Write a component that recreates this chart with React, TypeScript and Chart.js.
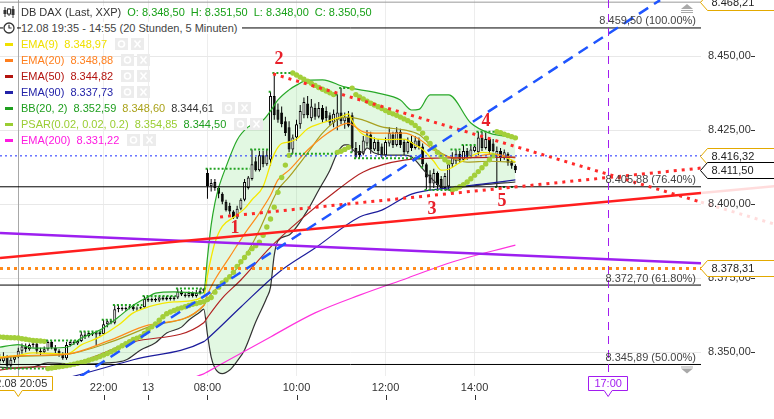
import React, { useEffect, useRef } from 'react';
import { Chart, registerables } from 'chart.js';

Chart.register(...registerables);

// ================= DATA =================
// 5-minute candles, bar index 0 = 19:40 (12.08) ... 139 = 14:55 (13.08)
const openPrices = [
  8348.0, 8347.0, 8348.5, 8345.5, 8347.5, 8348.5, 8350.5, 8352.0, 8351.0, 8352.5,
  8353.0, 8350.5, 8350.0, 8351.0, 8353.5, 8351.5, 8350.5, 8349.5, 8348.0, 8352.5,
  8353.5, 8353.0, 8353.8, 8356.0, 8355.5, 8356.5, 8356.0, 8356.8, 8356.2, 8359.5,
  8360.5, 8360.0, 8364.5, 8365.0, 8364.5, 8365.0, 8365.5, 8364.5, 8364.8, 8365.2,
  8368.0, 8367.5, 8368.0, 8367.5, 8368.5, 8367.8, 8368.5, 8368.0, 8368.5, 8370.5,
  8369.5, 8369.0, 8370.0, 8369.0, 8370.0, 8370.8, 8410.5, 8406.1, 8407.5, 8405.5,
  8403.5, 8400.8, 8399.5, 8397.5, 8395.5, 8398.5, 8401.5, 8405.5, 8408.5, 8414.5,
  8411.5, 8416.5, 8413.5, 8415.0, 8436.5, 8432.0, 8431.0, 8428.0, 8426.0, 8418.5,
  8422.5, 8427.0, 8430.0, 8434.0, 8429.0, 8432.5, 8429.5, 8432.5, 8431.5, 8430.0,
  8427.5, 8428.5, 8431.0, 8428.0, 8429.5, 8430.0, 8419.0, 8418.0, 8417.0, 8420.5,
  8423.5, 8418.5, 8421.0, 8419.5, 8416.5, 8420.5, 8423.5, 8420.0, 8424.5, 8421.0,
  8417.5, 8421.0, 8419.0, 8421.5, 8419.5, 8413.5, 8410.0, 8407.0, 8410.5, 8408.5,
  8405.5, 8406.0, 8413.5, 8414.5, 8417.0, 8415.0, 8418.0, 8416.0, 8418.0, 8417.5,
  8422.5, 8419.0, 8422.0, 8420.5, 8416.5, 8418.0, 8415.5, 8417.0, 8414.5, 8413.0,
];
const highPrices = [
  8349.5, 8350.0, 8349.0, 8348.5, 8349.0, 8351.5, 8353.0, 8353.0, 8353.0, 8353.5,
  8353.5, 8351.5, 8352.0, 8354.0, 8354.0, 8352.5, 8351.0, 8350.0, 8353.5, 8354.0,
  8354.0, 8354.0, 8357.0, 8357.0, 8357.0, 8357.0, 8357.0, 8357.0, 8361.0, 8361.0,
  8361.0, 8366.0, 8366.0, 8365.5, 8365.5, 8366.0, 8366.0, 8365.5, 8365.5, 8369.0,
  8368.5, 8368.5, 8368.5, 8369.0, 8369.0, 8369.0, 8369.0, 8369.0, 8371.5, 8371.0,
  8370.0, 8370.5, 8370.5, 8371.0, 8371.5, 8371.5, 8412.0, 8408.5, 8408.5, 8406.0,
  8404.0, 8401.5, 8400.5, 8398.0, 8399.5, 8402.0, 8408.5, 8409.5, 8418.5, 8416.0,
  8418.0, 8418.0, 8418.5, 8438.0, 8444.3, 8434.0, 8433.0, 8429.5, 8428.0, 8423.5,
  8428.5, 8433.5, 8436.0, 8436.5, 8435.5, 8434.0, 8434.5, 8433.5, 8433.0, 8431.0,
  8432.0, 8437.0, 8439.2, 8431.0, 8431.5, 8431.0, 8421.0, 8420.0, 8423.0, 8425.0,
  8424.5, 8422.5, 8422.0, 8420.5, 8422.5, 8426.0, 8424.5, 8426.0, 8425.5, 8422.0,
  8422.5, 8423.0, 8423.0, 8422.5, 8420.5, 8414.0, 8411.5, 8412.0, 8411.0, 8409.5,
  8410.5, 8414.0, 8417.5, 8418.5, 8418.0, 8420.0, 8419.0, 8420.0, 8420.0, 8424.5,
  8424.5, 8424.0, 8422.5, 8422.0, 8419.5, 8419.0, 8418.5, 8417.5, 8415.0, 8413.5,
];
const lowPrices = [
  8346.0, 8346.5, 8344.5, 8345.0, 8346.5, 8348.0, 8349.5, 8350.0, 8350.5, 8351.5,
  8349.5, 8349.0, 8349.5, 8350.5, 8351.0, 8349.5, 8348.5, 8347.5, 8347.5, 8352.0,
  8352.5, 8352.5, 8353.5, 8354.5, 8355.0, 8355.5, 8352.5, 8355.5, 8356.0, 8358.5,
  8359.5, 8359.5, 8363.5, 8364.0, 8364.0, 8364.5, 8364.0, 8364.0, 8364.5, 8365.0,
  8367.0, 8367.0, 8367.0, 8367.0, 8367.5, 8367.5, 8367.5, 8367.5, 8368.0, 8369.0,
  8368.5, 8368.5, 8368.5, 8368.5, 8369.5, 8370.0, 8401.8, 8404.3, 8404.5, 8402.0,
  8400.0, 8397.5, 8396.5, 8395.0, 8395.0, 8398.0, 8401.0, 8405.0, 8408.0, 8411.0,
  8411.0, 8412.5, 8413.0, 8413.0, 8428.5, 8427.5, 8426.0, 8423.0, 8417.5, 8417.0,
  8421.5, 8425.5, 8429.0, 8429.0, 8428.0, 8428.5, 8429.0, 8427.5, 8428.0, 8426.5,
  8426.0, 8425.0, 8427.0, 8425.5, 8426.0, 8417.5, 8415.5, 8415.5, 8416.5, 8419.5,
  8417.0, 8418.0, 8416.5, 8415.5, 8416.0, 8419.5, 8419.0, 8419.5, 8419.0, 8416.5,
  8417.0, 8418.0, 8418.5, 8418.5, 8412.5, 8405.0, 8404.8, 8405.5, 8405.0, 8404.8,
  8405.0, 8405.0, 8412.5, 8413.5, 8414.0, 8414.5, 8415.0, 8415.5, 8417.5, 8416.5,
  8418.0, 8418.5, 8417.0, 8417.5, 8405.8, 8414.5, 8415.0, 8413.0, 8412.0, 8410.5,
];
const closePrices = [
  8347.0, 8348.5, 8345.5, 8347.5, 8348.5, 8350.5, 8352.0, 8351.0, 8352.5, 8353.0,
  8350.5, 8350.0, 8351.0, 8353.5, 8351.5, 8350.5, 8349.5, 8348.0, 8352.5, 8353.5,
  8353.0, 8353.8, 8356.0, 8355.5, 8356.5, 8356.0, 8356.8, 8356.2, 8359.5, 8360.5,
  8360.0, 8364.5, 8365.0, 8364.5, 8365.0, 8365.5, 8364.5, 8364.8, 8365.2, 8368.0,
  8367.5, 8368.0, 8367.5, 8368.5, 8367.8, 8368.5, 8368.0, 8368.5, 8370.5, 8369.5,
  8369.0, 8370.0, 8369.0, 8370.0, 8370.8, 8371.5, 8406.1, 8407.2, 8405.5, 8403.5,
  8400.8, 8398.0, 8397.5, 8395.5, 8398.5, 8401.5, 8407.5, 8409.0, 8413.5, 8411.5,
  8416.5, 8413.5, 8416.5, 8436.5, 8430.0, 8428.5, 8427.0, 8424.0, 8418.5, 8422.5,
  8427.0, 8431.5, 8434.5, 8430.0, 8433.0, 8429.5, 8432.5, 8428.5, 8429.0, 8427.5,
  8430.5, 8431.0, 8428.0, 8429.5, 8426.5, 8419.0, 8416.0, 8416.5, 8421.5, 8423.5,
  8418.5, 8421.0, 8418.0, 8416.5, 8421.0, 8424.0, 8420.0, 8424.5, 8420.0, 8417.5,
  8421.0, 8419.0, 8421.5, 8419.5, 8413.5, 8409.0, 8407.0, 8410.5, 8406.5, 8405.5,
  8409.5, 8413.5, 8416.0, 8417.0, 8415.0, 8418.0, 8416.0, 8418.5, 8419.5, 8422.5,
  8419.0, 8422.0, 8418.0, 8418.0, 8418.0, 8415.5, 8417.5, 8414.0, 8413.0, 8411.5,
];
// Parabolic SAR, one dot per bar
const psarValues = [
  8355.2, 8355.1, 8355.0, 8354.95, 8354.9, 8354.85, 8354.6, 8354.4, 8354.2, 8354.0,
  8353.9, 8353.8, 8353.7, 8344.5, 8344.7, 8344.9, 8345.1, 8345.3, 8345.5, 8345.7,
  8346.0, 8346.3, 8346.6, 8346.9, 8347.3, 8347.7, 8348.1, 8348.6, 8349.1, 8349.6,
  8350.2, 8350.8, 8351.5, 8352.2, 8352.9, 8353.6, 8354.3, 8354.8, 8355.3, 8356.4,
  8357.5, 8358.6, 8359.6, 8360.8, 8362.0, 8363.0, 8363.6, 8364.1, 8364.6, 8365.0,
  8365.4, 8365.8, 8366.2, 8366.5, 8366.8, 8367.1, 8367.8, 8368.5, 8370.3, 8372.0,
  8373.4, 8374.4, 8375.5, 8377.0, 8379.0, 8380.6, 8382.0, 8383.5, 8385.0, 8386.0,
  8387.2, 8389.5, 8392.3, 8395.0, 8399.0, 8404.0, 8409.0, 8413.2, 8416.5, 8444.3,
  8443.6, 8442.9, 8442.2, 8441.5, 8440.8, 8440.1, 8439.4, 8438.8, 8438.2, 8437.6,
  8437.0, 8417.5, 8417.9, 8418.5, 8419.2, 8439.2, 8437.0, 8436.2, 8435.5, 8434.8,
  8434.1, 8433.5, 8432.9, 8432.3, 8431.6, 8431.0, 8430.5, 8430.0, 8429.4, 8428.8,
  8428.2, 8427.5, 8426.6, 8425.5, 8424.0, 8422.3, 8420.5, 8419.0, 8417.5, 8416.2,
  8415.0, 8414.2, 8404.8, 8405.3, 8405.9, 8406.6, 8407.5, 8408.6, 8409.8, 8411.0,
  8412.3, 8413.6, 8415.0, 8416.3, 8424.5, 8424.1, 8423.6, 8423.2, 8422.8, 8422.4,
];
// PSAR extreme-point steps (green dotted): start bar, end bar, value
const epStart = [0, 13, 22, 28, 31, 39, 48, 56, 68, 73, 74, 79, 91, 92, 95, 96, 114, 115, 122, 125, 129, 134];
const epEnd = [12, 21, 27, 30, 38, 47, 55, 67, 72, 73, 78, 90, 91, 94, 95, 113, 114, 121, 124, 128, 133, 139];
const epValue = [8344.5, 8354.0, 8357.0, 8361.0, 8366.0, 8369.0, 8371.5, 8412.0, 8418.5, 8438.0, 8444.3, 8417.0, 8437.0, 8439.2, 8417.5, 8415.5, 8412.5, 8404.8, 8418.5, 8420.0, 8424.5, 8405.8];

// indicator lines, read as [bar, value]
const ema9Points = [
  [0, 8348.4], [5, 8348.97], [9, 8349.8], [18, 8349.4], [22, 8352.5], [27, 8355.2], [32, 8359.2], [36, 8363.3],
  [40, 8365.3], [47, 8367.0], [55, 8368.8], [56, 8376.0], [57, 8382.0], [58, 8387.0], [60, 8392.5], [63, 8395.5],
  [66, 8398.5], [68, 8401.5], [71, 8406.0], [73, 8413.5], [74, 8417.0], [76, 8420.5], [78, 8421.0], [80, 8422.0],
  [83, 8425.5], [87, 8427.5], [92, 8429.5], [94, 8430.5], [95, 8428.2], [97, 8424.5], [100, 8422.5], [104, 8421.8],
  [109, 8422.0], [112, 8420.0], [114, 8418.5], [117, 8414.5], [119, 8411.5], [121, 8411.8], [124, 8414.0],
  [130, 8417.5], [135, 8416.5], [139, 8414.3],
];
const ema20Points = [
  [0, 8348.1], [5, 8348.88], [18, 8349.4], [30, 8354.2], [40, 8359.2], [55, 8365.8], [56, 8369.5], [58, 8374.5],
  [62, 8382.2], [66, 8390.0], [70, 8397.0], [73, 8403.0], [75, 8408.2], [78, 8411.5], [83, 8418.3], [87, 8422.7],
  [92, 8426.7], [94, 8427.4], [96, 8426.0], [98, 8424.4], [101, 8424.0], [109, 8424.0], [113, 8422.0],
  [117, 8418.3], [121, 8416.0], [126, 8415.6], [132, 8416.8], [135, 8416.6], [139, 8415.6],
];
const ema50Points = [
  [0, 8344.0], [5, 8344.82], [18, 8345.7], [36, 8353.5], [55, 8360.0], [56, 8361.8], [60, 8368.3], [65, 8374.4],
  [73, 8385.5], [81, 8394.7], [91, 8404.8], [98, 8410.9], [109, 8414.9], [120, 8415.6], [139, 8415.9],
];
const ema90Points = [
  [0, 8337.2], [5, 8337.73], [18, 8341.3], [36, 8347.5], [55, 8353.6], [56, 8354.6], [65, 8365.3], [75, 8376.8],
  [85, 8385.2], [97, 8395.7], [103, 8398.0], [111, 8403.4], [121, 8405.5], [130, 8406.8], [139, 8408.2],
];
const ema200Points = [
  [5, 8331.22], [24, 8334.9], [55, 8342.7], [56, 8343.4], [73, 8355.2], [85, 8363.3], [97, 8369.3],
  [110, 8375.1], [122, 8380.5], [139, 8386.2],
];
const bbUpperPoints = [
  [0, 8351.7], [5, 8352.59], [9, 8351.4], [18, 8351.7], [22, 8354.8], [27, 8357.5], [32, 8361.9], [36, 8365.9],
  [40, 8368.7], [42, 8370.0], [47, 8370.4], [54, 8370.0], [55, 8370.2], [56, 8382.0], [57, 8393.0], [58, 8400.4],
  [59, 8405.5], [61, 8412.6], [64, 8421.7], [67, 8426.1], [71, 8428.4], [73, 8431.5], [75, 8435.2], [78, 8438.6],
  [80, 8440.2], [83, 8441.9], [87, 8442.0], [93, 8439.6], [102, 8437.5], [108, 8435.2], [111, 8431.8],
  [113, 8432.0], [116, 8436.9], [121, 8436.9], [127, 8427.4], [132, 8424.0], [139, 8422.7],
];
const bbMidPoints = [
  [0, 8348.0], [5, 8348.6], [18, 8349.3], [30, 8353.5], [40, 8358.5], [55, 8365.8], [56, 8368.0], [58, 8371.0],
  [62, 8375.4], [66, 8382.0], [70, 8391.3], [75, 8404.8], [78, 8409.2], [83, 8417.3], [87, 8424.0], [92, 8429.1],
  [94, 8429.4], [98, 8428.4], [103, 8426.1], [109, 8425.1], [113, 8423.5], [117, 8419.0], [121, 8416.0],
  [126, 8414.2], [132, 8414.5], [139, 8414.2],
];
const bbLowerPoints = [
  [0, 8345.0], [5, 8344.61], [9, 8345.0], [13, 8346.4], [22, 8346.0], [29, 8346.4], [34, 8347.4], [38, 8350.8],
  [42, 8353.2], [45, 8356.5], [49, 8358.5], [51, 8360.9], [54, 8363.6], [55, 8364.6], [56, 8356.0], [57, 8348.4],
  [58, 8344.7], [59, 8343.2], [60, 8342.8], [62, 8344.0], [64, 8347.0], [66, 8350.8], [69, 8360.2], [72, 8368.5],
  [73, 8372.0], [74, 8382.8], [75, 8387.6], [78, 8389.6], [83, 8398.0], [86, 8404.8], [89, 8411.5], [91, 8417.3],
  [93, 8420.0], [94, 8420.0], [96, 8417.6], [98, 8417.6], [99, 8419.0], [101, 8417.3], [104, 8416.6],
  [109, 8416.6], [111, 8416.0], [115, 8410.5], [119, 8405.8], [121, 8404.8], [125, 8405.8], [130, 8406.5],
  [139, 8407.5],
];

// drawn tools (bar, price endpoints)
const blueTrendX = [13.6, 178.0];
const blueTrendY = [8335.2, 8468.9];
const redTrendX = [0.08, 189.03];
const redTrendY = [8381.8, 8403.8];
const purpleTrendX = [0.08, 189.03];
const purpleTrendY = [8390.3, 8380.1];
const redDotUpX = [59.4, 189.03];
const redDotUpY = [8395.7, 8412.2];
const redDotDownX = [73.7, 189.03];
const redDotDownY = [8444.0, 8400.7];
const orangeLevel = 8378.31;
const blueLevel = 8416.32;
const topLevel = 8468.21;
const fibValues = [8459.5, 8405.88, 8372.7, 8345.89];
const fibLabels = ['8.459,50 (100.00%)', '8.405,88 (76.40%)', '8.372,70 (61.80%)', '8.345,89 (50.00%)'];
const waveLabels = ['1', '2', '3', '4', '5'];
const waveBars = [63.4, 75.3, 116.5, 131.1, 135.4];
const waveValues = [8392.0, 8449.0, 8398.4, 8428.1, 8401.1];

// axes
const X_MIN = 0.08;
const X_MAX = 189.03;
const Y_MIN = 8342.0;
const Y_MAX = 8468.94;
const priceTicks = [8350, 8375, 8400, 8425, 8450];
const timeTickBars = [28, 40, 56, 80, 104, 128];
const timeTickLabels = ['22:00', '13', '08:00', '10:00', '12:00', '14:00'];
const crosshairBar = 5;
const crosshairLabel = '12.08 20:05';
const markerBar = 164;
const markerLabel = '17:00';
const tagValues = [8468.21, 8416.32, 8411.5, 8378.31];
const tagBorders = ['#e3a900', '#e3a900', '#000000', '#e3a900'];

// legend
const legendNames = ['EMA(9)', 'EMA(20)', 'EMA(50)', 'EMA(90)', 'BB(20, 2)', 'PSAR(0.02, 0.02, 0.2)', 'EMA(200)'];
const legendValues = [[8348.97], [8348.88], [8344.82], [8337.73], [8352.59, 8348.6, 8344.61], [8354.85, 8344.5], [8331.22]];
const legendColors = ['#f0e000', '#ff7f1e', '#b3140f', '#2323a8', '#1e9e1e', '#9acd32', '#ff1ae0'];
const legendValueColors = [['#f0e000'], ['#ff7f1e'], ['#b3140f'], ['#2323a8'], ['#1e9e1e', '#aaa21a', '#333333'], ['#9acd32', '#1e9e1e'], ['#ff1ae0']];
const ohlcLetters = ['O', 'H', 'L', 'C'];
const ohlcValues = [8348.5, 8351.5, 8348.0, 8350.5];
const titleText = 'DB DAX (Last, XXP)';
const rangeText = '12.08 19:35 - 14:55 (20 Stunden, 5 Minuten)';

// ================= HELPERS =================
const FONT = '"Liberation Sans", Arial, sans-serif';

function fmtDE(v: number): string {
  const [i, d] = v.toFixed(2).split('.');
  return i.replace(/\B(?=(\d{3})+(?!\d))/g, '.') + ',' + d;
}
const toXY = (pts: number[][]) => pts.map(([x, y]) => ({ x, y }));
const seg = (xs: number[], ys: number[]) => xs.map((x, k) => ({ x, y: ys[k] }));

function pointerBox(ctx: CanvasRenderingContext2D, cx: number, top: number, halfW: number, h: number, stroke: string, text: string, color: string) {
  ctx.save();
  const l = Math.round(cx - halfW) + 0.5, r = Math.round(cx + halfW) - 0.5, t = top + 0.5, b = top + h - 0.5;
  ctx.beginPath();
  ctx.moveTo(l, t); ctx.lineTo(r, t); ctx.lineTo(r, b);
  ctx.lineTo(cx + 4, b); ctx.lineTo(cx, b + 6); ctx.lineTo(cx - 4, b);
  ctx.lineTo(l, b); ctx.closePath();
  ctx.fillStyle = '#fff'; ctx.fill();
  ctx.strokeStyle = stroke; ctx.lineWidth = 1; ctx.stroke();
  ctx.fillStyle = color; ctx.font = '11px ' + FONT; ctx.textAlign = 'center'; ctx.textBaseline = 'middle';
  ctx.fillText(text, cx, top + h / 2 + 0.5);
  ctx.restore();
}

const decorPlugin = {
  id: 'decor',
  beforeDatasetsDraw(chart: any) {
    const { ctx, chartArea: ca, scales } = chart;
    const cx = Math.round(scales.x.getPixelForValue(crosshairBar)) + 0.5;
    ctx.save();
    ctx.strokeStyle = '#a8a8a8'; ctx.lineWidth = 1;
    ctx.beginPath(); ctx.moveTo(cx, ca.top); ctx.lineTo(cx, ca.bottom); ctx.stroke();
    ctx.restore();
  },
  afterDatasetsDraw(chart: any) {
    const { ctx, chartArea: ca, scales } = chart;
    const xs = scales.x, ys = scales.y;
    ctx.save();
    // 17:00 marker line
    const mx = Math.round(xs.getPixelForValue(markerBar)) + 0.5;
    ctx.strokeStyle = '#a21cf0'; ctx.lineWidth = 1; ctx.setLineDash([8, 6]);
    ctx.beginPath(); ctx.moveTo(mx, ca.top); ctx.lineTo(mx, ca.bottom); ctx.stroke();
    ctx.setLineDash([]);
    // fib labels
    ctx.font = '11px ' + FONT; ctx.fillStyle = '#444'; ctx.textAlign = 'right'; ctx.textBaseline = 'bottom';
    fibValues.forEach((v, k) => {
      ctx.fillText(fibLabels[k], ca.right - 5, ys.getPixelForValue(v) - 1);
    });
    // wave numbers
    ctx.font = 'bold 18px "Liberation Serif", "Times New Roman", serif';
    ctx.fillStyle = '#e8202a'; ctx.textAlign = 'center'; ctx.textBaseline = 'middle';
    waveLabels.forEach((t, k) => {
      ctx.fillText(t, xs.getPixelForValue(waveBars[k]), ys.getPixelForValue(waveValues[k]));
    });
    ctx.restore();
  },
  afterDraw(chart: any) {
    const { ctx, chartArea: ca, scales, width } = chart;
    const xs = scales.x, ys = scales.y;
    ctx.save();
    // faded continuation of tools into the price-axis strip
    const ext = (X: number[], Y: number[], dash: number[], w: number) => {
      const slope = (Y[1] - Y[0]) / (X[1] - X[0]);
      const xEnd = X_MAX + 22;
      ctx.strokeStyle = 'rgba(255,40,40,0.16)'; ctx.lineWidth = w; ctx.setLineDash(dash);
      ctx.beginPath();
      ctx.moveTo(ca.right, ys.getPixelForValue(Y[1]));
      ctx.lineTo(xs.getPixelForValue(xEnd), ys.getPixelForValue(Y[1] + slope * (xEnd - X[1])));
      ctx.stroke();
    };
    ext(redTrendX, redTrendY, [], 2.5);
    ext(redDotDownX, redDotDownY, [3, 5], 3);
    ctx.setLineDash([]);
    // price-axis dashes
    ctx.strokeStyle = '#333'; ctx.lineWidth = 1;
    priceTicks.forEach((v) => {
      const y = Math.round(ys.getPixelForValue(v)) + 0.5;
      ctx.beginPath(); ctx.moveTo(751, y); ctx.lineTo(755, y); ctx.stroke();
    });
    // time-axis tick marks
    timeTickBars.forEach((b) => {
      const x = Math.round(xs.getPixelForValue(b)) + 0.5;
      ctx.beginPath(); ctx.moveTo(x, ca.bottom + 19); ctx.lineTo(x, ca.bottom + 24); ctx.stroke();
    });
    // bottom boxes
    pointerBox(ctx, xs.getPixelForValue(crosshairBar), ca.bottom, 35, 15, '#e3a900', crosshairLabel, '#333');
    pointerBox(ctx, xs.getPixelForValue(markerBar), ca.bottom, 20, 15, '#a21cf0', markerLabel, '#a21cf0');
    // right price tags
    tagValues.forEach((v, k) => {
      const cy = Math.round(ys.getPixelForValue(v)) + 0.5;
      const tip = ca.right - 0.5;
      ctx.beginPath();
      ctx.moveTo(tip, cy); ctx.lineTo(tip + 7, cy - 8); ctx.lineTo(width + 5, cy - 8);
      ctx.lineTo(width + 5, cy + 8); ctx.lineTo(tip + 7, cy + 8); ctx.closePath();
      ctx.fillStyle = '#fff'; ctx.fill();
      ctx.strokeStyle = tagBorders[k]; ctx.lineWidth = 1; ctx.stroke();
      ctx.fillStyle = '#222'; ctx.font = '11px ' + FONT; ctx.textAlign = 'left'; ctx.textBaseline = 'middle';
      ctx.fillText(fmtDE(v), tip + 11, cy + 0.5);
    });
    // scroll icons
    const ix = ca.right - 14;
    ctx.fillStyle = '#a9a9a9';
    ctx.beginPath(); ctx.moveTo(ix - 6, ca.top + 9); ctx.lineTo(ix + 6, ca.top + 9); ctx.lineTo(ix, ca.top + 4); ctx.closePath(); ctx.fill();
    ctx.fillRect(ix - 6, ca.top + 10, 12, 1); ctx.fillRect(ix - 6, ca.top + 12, 12, 1);
    const by = ys.getPixelForValue(fibValues[3]);
    ctx.fillRect(ix - 6, by + 2, 12, 1);
    ctx.beginPath(); ctx.moveTo(ix - 6, by + 4); ctx.lineTo(ix + 6, by + 4); ctx.lineTo(ix, by + 9); ctx.closePath(); ctx.fill();
    ctx.restore();
  },
};

// ================= COMPONENTS =================
function Buttons() {
  return (
    <span style={{ display: 'inline-flex', gap: 3, marginLeft: 8 }}>
      <svg width="13" height="12"><rect width="13" height="12" fill="#ececec" /><circle cx="6.5" cy="6" r="3" fill="none" stroke="#fff" strokeWidth="1.6" /></svg>
      <svg width="13" height="12"><rect width="13" height="12" fill="#ececec" /><path d="M3.5 2.5 L9.5 9.5 M9.5 2.5 L3.5 9.5" stroke="#fff" strokeWidth="1.6" /></svg>
    </span>
  );
}

function Legend() {
  const row = (top: number): React.CSSProperties => ({
    position: 'absolute', left: 0, top, height: 16, display: 'flex', alignItems: 'center',
    whiteSpace: 'nowrap', font: '11px ' + FONT,
  });
  return (
    <div style={{ position: 'absolute', left: 0, top: 0, pointerEvents: 'none' }}>
      <div style={row(4)}>
        <span style={{ width: 14, marginLeft: 3, marginRight: 4, height: 14, background: '#fff', display: 'inline-flex', alignItems: 'center' }}>
          <svg width="12" height="12">
            <path d="M2 1 V11 M6 2 V10 M10 0 V12" stroke="#333" strokeWidth="1" />
            <rect x="0.5" y="4" width="3" height="4" fill="#333" /><rect x="4.5" y="3" width="3" height="5" fill="#fff" stroke="#333" strokeWidth="1" />
            <rect x="8.5" y="3" width="3" height="6" fill="#333" />
          </svg>
        </span>
        <span style={{ color: '#333', background: '#fff' }}>{titleText}</span>
        {ohlcLetters.map((l, k) => (
          <span key={l} style={{ color: '#18a018', marginLeft: 6 }}>{l}: {fmtDE(ohlcValues[k])}</span>
        ))}
      </div>
      <div style={row(20)}>
        <span style={{ width: 14, marginLeft: 3, marginRight: 4, height: 16, background: '#fff', display: 'inline-flex', alignItems: 'center' }}>
          <svg width="12" height="12">
            <circle cx="6" cy="6" r="5" fill="none" stroke="#333" strokeWidth="1.3" />
            <path d="M6 2.8 V6 H8.6" fill="none" stroke="#333" strokeWidth="1.2" />
          </svg>
        </span>
        <span style={{ color: '#444', background: '#fff', paddingRight: 4 }}>{rangeText}</span>
      </div>
      {legendNames.map((name, k) => (
        <div key={name} style={row(36 + 16 * k)}>
          <span style={{ display: 'inline-block', width: 8, height: 3, background: legendColors[k], marginLeft: 5, marginRight: 8 }} />
          <span style={{ color: legendColors[k] }}>{name}</span>
          {legendValues[k].map((v, j) => (
            <span key={j} style={{ color: legendValueColors[k][j], marginLeft: 6 }}>{fmtDE(v)}</span>
          ))}
          <Buttons />
        </div>
      ))}
    </div>
  );
}

export default function App() {
  const canvasRef = useRef<HTMLCanvasElement | null>(null);

  useEffect(() => {
    document.body.style.margin = '0';
    const canvas = canvasRef.current;
    if (!canvas) return;
    Chart.defaults.font.family = FONT;
    Chart.defaults.font.size = 11;

    const bars = openPrices.map((_, i) => i);
    const line = (data: any[], color: string, width: number, order: number, extra: any = {}) => ({
      type: 'line', data, borderColor: color, borderWidth: width, pointRadius: 0, fill: false,
      order, ...extra,
    });
    const epData: any[] = [];
    epStart.forEach((s, k) => {
      epData.push({ x: s - 0.5, y: epValue[k] }, { x: epEnd[k] + 0.5, y: epValue[k] }, { x: epEnd[k] + 0.5, y: null });
    });

    const datasets: any[] = [
      // drawn tools (top-most)
      line(seg(blueTrendX, blueTrendY), '#1f55ff', 2.5, 0, { borderDash: [11, 7] }),
      line(seg(redTrendX, redTrendY), '#ff1e1e', 2.5, 0),
      line(seg(purpleTrendX, purpleTrendY), '#9d1ff0', 2.5, 0),
      line(seg(redDotUpX, redDotUpY), '#ff2a2a', 3, 0, { borderDash: [3, 5] }),
      line(seg(redDotDownX, redDotDownY), '#ff2a2a', 3, 0, { borderDash: [3, 5] }),
      line(seg([X_MIN, X_MAX], [orangeLevel, orangeLevel]), '#ff8a1a', 3, 0, { borderDash: [3, 4] }),
      line(seg([X_MIN, X_MAX], [blueLevel, blueLevel]), '#1a2cff', 1, 0, { borderDash: [2, 3] }),
      ...fibValues.map((v) => line(seg([X_MIN, X_MAX], [v, v]), '#000', 1, 1)),
      line(seg([X_MIN, X_MAX], [topLevel, topLevel]), '#9a9a9a', 1, 1),
      // PSAR extreme points
      line(epData, '#22a322', 2, 2, { borderDash: [2, 2] }),
      // PSAR dots
      {
        type: 'line', data: bars.map((i) => ({ x: i, y: psarValues[i] })), showLine: false,
        pointRadius: 2.7, pointBackgroundColor: '#a3cf3a', pointBorderWidth: 0, order: 3,
      },
      // moving averages
      line(toXY(ema200Points), '#ff33dd', 1.2, 4, { cubicInterpolationMode: 'monotone' }),
      line(toXY(ema90Points), '#1c1c9c', 1.2, 4, { cubicInterpolationMode: 'monotone' }),
      line(toXY(ema50Points), '#b22222', 1.2, 4, { cubicInterpolationMode: 'monotone' }),
      line(toXY(ema20Points), '#ff8c1a', 1.2, 4, { cubicInterpolationMode: 'monotone' }),
      line(toXY(ema9Points), '#f5e800', 1.3, 4, { cubicInterpolationMode: 'monotone' }),
      // Bollinger bands
      line(toXY(bbMidPoints), '#a8a020', 1.2, 5, { cubicInterpolationMode: 'monotone' }),
      line(toXY(bbUpperPoints), '#28a828', 1.2, 5, {
        cubicInterpolationMode: 'monotone',
        fill: { target: '+1', above: 'rgba(110,220,110,0.2)', below: 'rgba(110,220,110,0.2)' },
      }),
      line(toXY(bbLowerPoints), '#333333', 1.2, 5, { cubicInterpolationMode: 'monotone' }),
      // candle bodies and wicks
      {
        type: 'bar', data: bars.map((i) => ({ x: i, y: [openPrices[i], closePrices[i]] })),
        backgroundColor: bars.map((i) => (closePrices[i] >= openPrices[i] ? '#ffffff' : '#000000')),
        borderColor: '#000', borderWidth: 1, borderSkipped: false, barThickness: 3, grouped: false,
        inflateAmount: 0, order: 6,
      },
      {
        type: 'bar', data: bars.map((i) => ({ x: i, y: [lowPrices[i], highPrices[i]] })),
        backgroundColor: '#000', borderWidth: 0, barThickness: 1, grouped: false, inflateAmount: 0, order: 7,
      },
    ];

    const chart = new Chart(canvas, {
      type: 'bar',
      data: { datasets },
      options: {
        responsive: false,
        animation: false,
        devicePixelRatio: 1,
        layout: { padding: 0, autoPadding: false },
        events: [],
        plugins: {
          legend: { display: false },
          tooltip: { enabled: false },
          filler: { drawTime: 'beforeDatasetsDraw' },
        },
        scales: {
          x: {
            type: 'linear', min: X_MIN, max: X_MAX, offset: false,
            grid: { color: '#ededed', drawTicks: false, offset: false },
            border: { display: false },
            ticks: {
              padding: 5, color: '#333', font: { size: 11, family: FONT }, autoSkip: false, maxRotation: 0,
              callback: (v: any) => timeTickLabels[timeTickBars.indexOf(Number(v))] ?? '',
            },
            afterBuildTicks: (s: any) => { s.ticks = timeTickBars.map((v) => ({ value: v })); },
            afterFit: (s: any) => { s.height = 43; s.paddingLeft = 0; s.paddingRight = 0; },
          },
          y: {
            type: 'linear', position: 'right', min: Y_MIN, max: Y_MAX,
            grid: { color: '#e8e8e8', drawTicks: false },
            border: { display: false },
            ticks: {
              crossAlign: 'near', padding: 7, color: '#333', font: { size: 11, family: FONT },
              callback: (v: any) => fmtDE(Number(v)),
            },
            afterBuildTicks: (s: any) => { s.ticks = priceTicks.map((v) => ({ value: v })); },
            afterFit: (s: any) => { s.width = 73; s.paddingTop = 0; s.paddingBottom = 0; },
          },
        },
      } as any,
      plugins: [decorPlugin],
    } as any);

    return () => chart.destroy();
  }, []);

  return (
    <div style={{ position: 'relative', width: 774, height: 419, overflow: 'hidden', background: '#fff' }}>
      <canvas ref={canvasRef} width={774} height={419} style={{ display: 'block', width: 774, height: 419 }} />
      <Legend />
    </div>
  );
}
